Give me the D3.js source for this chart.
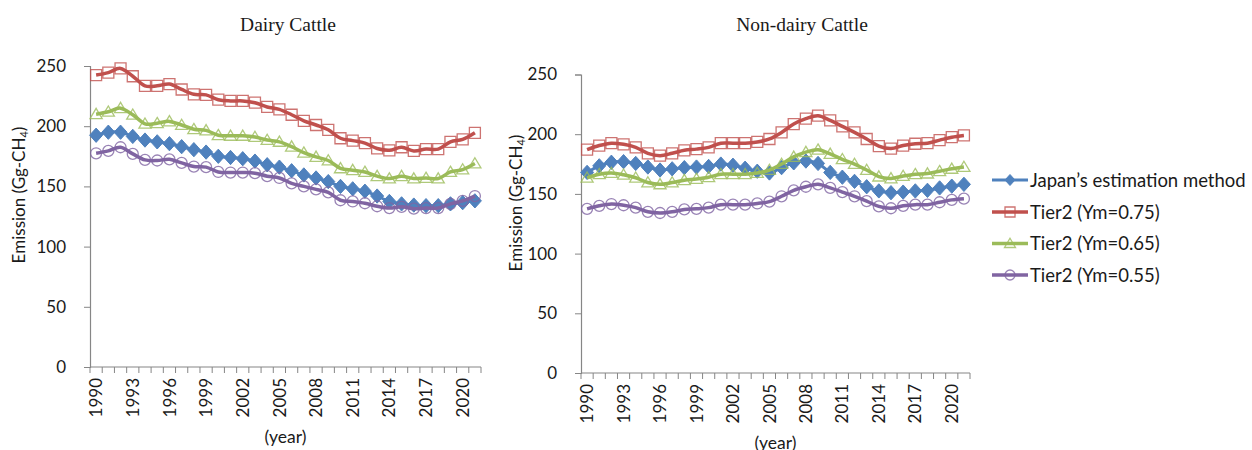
<!DOCTYPE html>
<html>
<head>
<meta charset="utf-8">
<script src="https://cdn.jsdelivr.net/npm/d3@7"></script>
<style>
  html, body { margin: 0; padding: 0; background: #ffffff; }
  svg { display: block; }
  text { font-family: Lato, "Open Sans", sans-serif; fill: #1a1a1a; }
</style>
</head>
<body>
<svg id="chart" width="1252" height="450"></svg>
<script>
// Enteric CH4 emission from cattle, 1990–2021 (Gg-CH4)
const years = d3.range(1990, 2022);
const yearTickLabels = [1990, 1993, 1996, 1999, 2002, 2005, 2008, 2011, 2014, 2017, 2020];
const valueTicks = [0, 50, 100, 150, 200, 250];

const seriesNames = ["Japan\u2019s estimation method", "Tier2 (Ym=0.75)", "Tier2 (Ym=0.65)", "Tier2 (Ym=0.55)"];

// Dairy cattle
const dairyJapan = [192.5, 195, 195, 191.5, 188.5, 187, 185.5, 183, 180.5, 178.5, 175, 174, 173, 171, 168, 166, 163, 159.5, 157, 154, 150, 148, 146, 142, 137.5, 135.5, 134.5, 134, 134, 135.5, 136.5, 138];
const dairyYm075 = [242.5, 244.5, 248, 241.5, 233.5, 233.5, 235, 230.5, 226.5, 226, 222, 221, 221, 219.5, 216, 214, 209.5, 204.5, 201, 197, 190, 188, 186, 181.5, 180, 182.5, 179.5, 181, 181, 187, 189, 194.5];
const dairyYm065 = [210, 212, 215, 209.5, 202, 202.5, 204, 201, 197.5, 196.5, 192.5, 192, 192, 191, 188.5, 187, 183, 178, 174.5, 171.5, 165, 163.5, 162, 158.5, 156.5, 158.5, 156.5, 157, 156.5, 162, 164, 169];
const dairyYm055 = [177.5, 179.5, 182.5, 177, 172, 171.5, 172.5, 169.5, 166.5, 166, 162, 161.5, 161.5, 161, 158.5, 157, 152.5, 150, 147.5, 145, 138.5, 137.5, 136, 133.5, 132, 133, 131.5, 132, 132, 135.5, 138, 142];

// Non-dairy cattle
const nonDairyJapan = [168, 173.5, 176.5, 177, 175.5, 172.5, 170, 171, 172, 172.5, 173, 175, 174, 171.5, 169, 167.5, 172, 176, 177.5, 175.5, 168, 164, 160.5, 156, 152.5, 151, 151.5, 152.5, 153, 155, 156.5, 158];
const nonDairyYm075 = [187, 190.5, 192.5, 191.5, 189, 184, 182, 184, 186.5, 187.5, 189, 192.5, 192.5, 192.5, 193.5, 196, 201.5, 208.5, 213, 215.5, 211.5, 206.5, 201.5, 196, 190, 188, 190.5, 192, 192.5, 195, 197.5, 199];
const nonDairyYm065 = [163.5, 166.5, 167.5, 166, 163.5, 159.5, 158, 159.5, 161.5, 162.5, 164, 166.5, 166.5, 166.5, 167.5, 170, 175, 181, 185, 187, 183.5, 179, 175, 170, 164.5, 163, 165, 166.5, 167, 169, 171, 172.5];
const nonDairyYm055 = [137.5, 140, 141.5, 140.5, 138.5, 135, 134, 135, 137, 137.5, 138.5, 141, 141, 141, 142, 143.5, 148, 153, 156, 158, 155, 151.5, 148, 144, 139.5, 138, 140, 141, 141, 143, 145, 146];

const colors = ["#4f81bd", "#c0504d", "#9bbb59", "#8064a2"];
const markers = ["diamond", "square", "triangle", "circle"];

const svg = d3.select("#chart");

const panels = [
  { title: "Dairy Cattle", titleX: 288, x0: 90, x1: 481, y0: 66, y1: 367, yTitleX: 19, yTitleY: 195,
    data: [dairyJapan, dairyYm075, dairyYm065, dairyYm055] },
  { title: "Non-dairy Cattle", titleX: 802, x0: 581, x1: 970, y0: 74.5, y1: 373, yTitleX: 516, yTitleY: 203,
    data: [nonDairyJapan, nonDairyYm075, nonDairyYm065, nonDairyYm055] }
];

function markerPath(type, s) {
  if (type === "diamond") return `M0,${-s * 1.1}L${s},0L0,${s * 1.1}L${-s},0Z`;
  if (type === "square") return `M${-s},${-s}H${s}V${s}H${-s}Z`;
  if (type === "triangle") return `M0,${-s * 1.05}L${s * 1.1},${s * 0.8}L${-s * 1.1},${s * 0.8}Z`;
  return d3.arc()({ innerRadius: 0, outerRadius: s, startAngle: 0, endAngle: 2 * Math.PI });
}

function drawMarker(g, type, color, s) {
  const p = g.append("path").attr("d", markerPath(type, s));
  if (type === "diamond") p.attr("fill", color).attr("stroke", color).attr("stroke-width", 1);
  else p.attr("fill", "none").attr("stroke", color).attr("stroke-opacity", 0.8).attr("stroke-width", 1.3);
}

panels.forEach(pn => {
  const g = svg.append("g");
  const x = d3.scaleBand().domain(years).range([pn.x0, pn.x1]).padding(0);
  const cx = d => x(d) + x.bandwidth() / 2;
  const y = d3.scaleLinear().domain([0, 250]).range([pn.y1, pn.y0]);

  // Title
  g.append("text").attr("x", pn.titleX).attr("y", 31).attr("text-anchor", "middle")
    .style("font-family", "'Liberation Serif', 'DejaVu Serif', serif").style("font-size", "19.5px")
    .text(pn.title);

  // Y axis
  const yAxis = d3.axisLeft(y).tickValues(valueTicks).tickSize(6).tickPadding(18);
  const ya = g.append("g").attr("transform", `translate(${pn.x0},0)`).call(yAxis);
  ya.select(".domain").attr("stroke", "#868686").attr("stroke-width", 1.2);
  ya.selectAll(".tick line").attr("stroke", "#868686");
  ya.selectAll(".tick text").style("font-size", "17px").style("font-family", "Lato, sans-serif").attr("fill", "#1a1a1a");

  // X axis: ticks on category boundaries, labels every third year
  const xa = g.append("g");
  xa.append("line").attr("x1", pn.x0).attr("x2", pn.x1).attr("y1", pn.y1).attr("y2", pn.y1)
    .attr("stroke", "#868686").attr("stroke-width", 1.2);
  const bounds = years.map(d => x(d)).concat([x(years[years.length - 1]) + x.bandwidth()]);
  xa.selectAll("line.tk").data(bounds).join("line").attr("class", "tk")
    .attr("x1", d => d).attr("x2", d => d).attr("y1", pn.y1).attr("y2", pn.y1 + 6)
    .attr("stroke", "#868686");
  xa.selectAll("text").data(yearTickLabels).join("text")
    .attr("transform", d => `translate(${cx(d)},${pn.y1 + 11}) rotate(-90)`)
    .attr("text-anchor", "end").attr("dy", "0.36em")
    .style("font-size", "17px").text(d => d);

  g.append("text").attr("x", (pn.x0 + pn.x1) / 2).attr("y", pn.y1 + 76).attr("text-anchor", "middle")
    .style("font-size", "17.5px").text("(year)");

  // Y axis title
  const yt = g.append("text").attr("transform", `translate(${pn.yTitleX},${pn.yTitleY}) rotate(-90)`)
    .attr("text-anchor", "middle").attr("dy", "0.35em").style("font-size", "17px");
  yt.append("tspan").text("Emission (Gg-CH");
  yt.append("tspan").attr("font-size", "11px").attr("dy", "3").text("4");
  yt.append("tspan").attr("dy", "-3").text(")");

  // Series
  const line = d3.line().x((d, i) => cx(years[i])).y(d => y(d)).curve(d3.curveCatmullRom.alpha(0));
  pn.data.forEach((vals, si) => {
    const sg = g.append("g");
    sg.append("path").attr("d", line(vals)).attr("fill", "none")
      .attr("stroke", colors[si]).attr("stroke-width", si === 0 ? 3 : 3.5).attr("stroke-linejoin", "round");
    const size = si === 0 ? 6.5 : 5.5;
    vals.forEach((v, i) => {
      const mg = sg.append("g").attr("transform", `translate(${cx(years[i])},${y(v)})`);
      drawMarker(mg, markers[si], colors[si], size);
    });
  });
});

// Legend
const legendY = [180, 212, 243.5, 275];
const lg = svg.append("g");
seriesNames.forEach((name, i) => {
  const row = lg.append("g").attr("transform", `translate(992,${legendY[i]})`);
  row.append("line").attr("x1", 0).attr("x2", 36).attr("stroke", colors[i]).attr("stroke-width", i === 0 ? 3 : 3.5);
  const m = row.append("g").attr("transform", "translate(18,0)");
  drawMarker(m, markers[i], colors[i], 5);
  row.append("text").attr("x", 38).attr("dy", "0.36em").style("font-size", "18.5px").text(name);
});
</script>
</body>
</html>
